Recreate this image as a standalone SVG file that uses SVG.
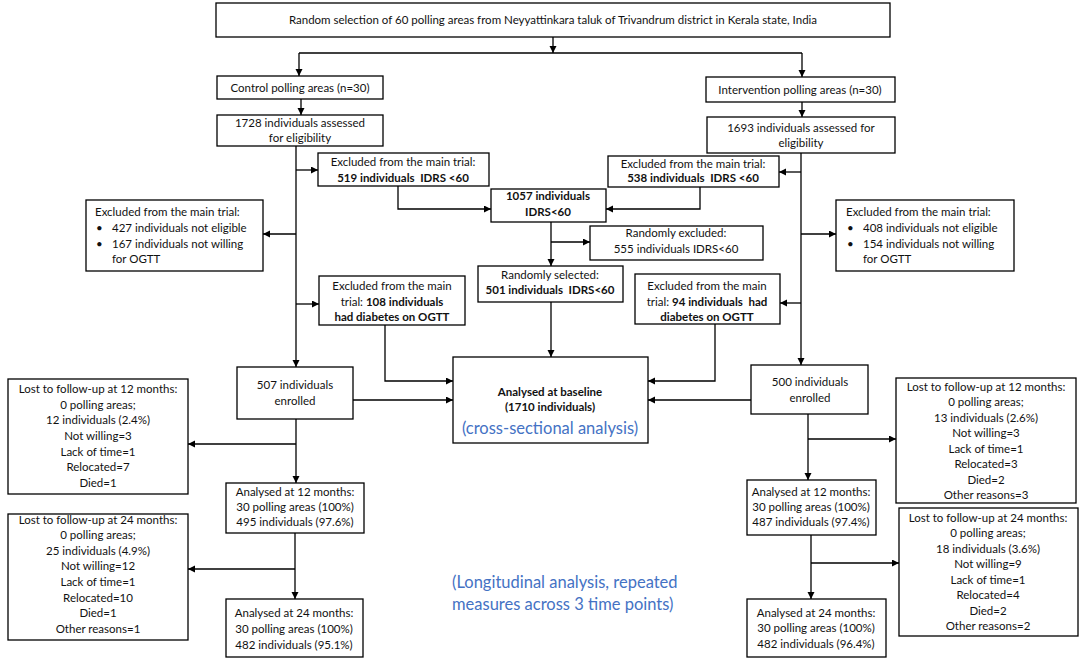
<svg xmlns="http://www.w3.org/2000/svg" width="1084" height="661" viewBox="0 0 1084 661">
<style>
.box{fill:#fff;stroke:#000;stroke-width:1.3}
.c{fill:none;stroke:#000;stroke-width:1.3}
text{font-family:Lato,"Liberation Sans",sans-serif;font-size:11.5px;fill:#111;text-anchor:middle}
.b{font-weight:bold}
.s{text-anchor:start}
.blue{fill:#4472C4;font-size:16.5px}
</style>
<defs>
<marker id="ah" markerUnits="userSpaceOnUse" markerWidth="8" markerHeight="8" refX="7" refY="3.5" orient="auto">
<path d="M0,0 L7,3.5 L0,7 z" fill="#000"/>
</marker>
</defs>
<rect width="1084" height="661" fill="#fff"/>
<g id="connectors" class="c" marker-end="url(#ah)">
<path d="M553,37 V53"/>
<path d="M299,53 H802" marker-end="none"/>
<path d="M299,53 V76"/>
<path d="M802,53 V77"/>
<path d="M301,99 V115"/>
<path d="M802,102 V117"/>
<path d="M296,146 V367"/>
<path d="M296,170 H318"/>
<path d="M296,234 H263"/>
<path d="M296,304 H319"/>
<path d="M801,153 V365"/>
<path d="M801,172 H779"/>
<path d="M801,234 H836"/>
<path d="M801,303 H780"/>
<path d="M398,186 V209 H491"/>
<path d="M700,187 V209 H606"/>
<path d="M551,222 V266"/>
<path d="M551,242 H590"/>
<path d="M551,302 V357"/>
<path d="M385,325 V381 H453"/>
<path d="M715,324 V381 H648"/>
<path d="M353,400 H453"/>
<path d="M751,400 H648"/>
<path d="M296,419 V483"/>
<path d="M296,444 H188"/>
<path d="M295,533 V599"/>
<path d="M295,569 H188"/>
<path d="M808,414 V480"/>
<path d="M808,439 H896"/>
<path d="M811,535 V599"/>
<path d="M811,563 H899"/>
</g>
<g id="n_top"><rect class="box" x="216" y="3" width="674" height="34"/><text x="553" y="24">Random selection of 60 polling areas from Neyyattinkara taluk of Trivandrum district in Kerala state, India</text></g>
<g id="n_ctrl"><rect class="box" x="217" y="76" width="166" height="23"/><text x="300" y="92">Control polling areas (n=30)</text></g>
<g id="n_int"><rect class="box" x="706" y="77" width="189" height="25"/><text x="800" y="94">Intervention polling areas (n=30)</text></g>
<g id="n_1728"><rect class="box" x="217" y="115" width="166" height="31"/><text x="300" y="127">1728 individuals assessed</text><text x="300" y="142">for eligibility</text></g>
<g id="n_1693"><rect class="box" x="707" y="117" width="188" height="36"/><text x="801" y="132">1693 individuals assessed for</text><text x="801" y="147">eligibility</text></g>
<g id="n_519"><rect class="box" x="318" y="153" width="171" height="33"/><text x="403" y="166">Excluded from the main trial:</text><text class="b" x="403" y="182">519 individuals &#160;IDRS &lt;60</text></g>
<g id="n_538"><rect class="box" x="608" y="156" width="171" height="31"/><text x="693" y="168">Excluded from the main trial:</text><text class="b" x="693" y="182">538 individuals &#160;IDRS &lt;60</text></g>
<g id="n_1057"><rect class="box" x="491" y="189" width="115" height="33"/><text class="b" x="548" y="200">1057 individuals</text><text class="b" x="548" y="216">IDRS&lt;60</text></g>
<g id="n_555"><rect class="box" x="590" y="226" width="173" height="34"/><text x="676" y="237">Randomly excluded:</text><text x="676" y="253">555 individuals IDRS&lt;60</text></g>
<g id="n_501"><rect class="box" x="478" y="266" width="145" height="36"/><text x="550" y="279">Randomly selected:</text><text class="b" x="550" y="294">501 individuals &#160;IDRS&lt;60</text></g>
<g id="n_427"><rect class="box" x="86" y="200" width="177" height="71"/><text class="s" x="95" y="216">Excluded from the main trial:</text><text class="s" x="96" y="232">•</text><text class="s" x="112" y="232">427 individuals not eligible</text><text class="s" x="96" y="248">•</text><text class="s" x="112" y="248">167 individuals not willing</text><text class="s" x="112" y="263">for OGTT</text></g>
<g id="n_408"><rect class="box" x="836" y="200" width="178" height="71"/><text class="s" x="846" y="216">Excluded from the main trial:</text><text class="s" x="847" y="232">•</text><text class="s" x="863" y="232">408 individuals not eligible</text><text class="s" x="847" y="248">•</text><text class="s" x="863" y="248">154 individuals not willing</text><text class="s" x="863" y="263">for OGTT</text></g>
<g id="n_108"><rect class="box" x="319" y="276" width="146" height="49"/><text x="392" y="290">Excluded from the main</text><text x="392" y="306">trial: <tspan class="b">108 individuals</tspan></text><text class="b" x="392" y="321">had diabetes on OGTT</text></g>
<g id="n_94"><rect class="box" x="635" y="274" width="145" height="50"/><text x="707" y="290">Excluded from the main</text><text x="707" y="306">trial: <tspan class="b">94 individuals &#160;had</tspan></text><text class="b" x="707" y="321">diabetes on OGTT</text></g>
<g id="n_base"><rect class="box" x="453" y="357" width="195" height="86"/><text class="b" x="550" y="396">Analysed at baseline</text><text class="b" x="550" y="411">(1710 individuals)</text><text class="blue" x="550" y="434">(cross-sectional analysis)</text></g>
<g id="n_507"><rect class="box" x="237" y="367" width="116" height="52"/><text x="295" y="389">507 individuals</text><text x="295" y="405">enrolled</text></g>
<g id="n_500"><rect class="box" x="751" y="365" width="117" height="49"/><text x="810" y="386">500 individuals</text><text x="810" y="402">enrolled</text></g>
<g id="n_lost12L"><rect class="box" x="8" y="379" width="180" height="115"/>
<text x="98" y="393">Lost to follow-up at 12 months:</text><text x="98" y="409">0 polling areas;</text><text x="98" y="424">12 individuals (2.4%)</text><text x="98" y="440">Not willing=3</text><text x="98" y="456">Lack of time=1</text><text x="98" y="471">Relocated=7</text><text x="98" y="487">Died=1</text></g>
<g id="n_12mL"><rect class="box" x="226" y="483" width="138" height="50"/><text x="295" y="496">Analysed at 12 months:</text><text x="295" y="511">30 polling areas (100%)</text><text x="295" y="526">495 individuals (97.6%)</text></g>
<g id="n_lost24L"><rect class="box" x="8" y="514" width="180" height="126"/>
<text x="98" y="524">Lost to follow-up at 24 months:</text><text x="98" y="539">0 polling areas;</text><text x="98" y="555">25 individuals (4.9%)</text><text x="98" y="570">Not willing=12</text><text x="98" y="586">Lack of time=1</text><text x="98" y="602">Relocated=10</text><text x="98" y="617">Died=1</text><text x="98" y="633">Other reasons=1</text></g>
<g id="n_24mL"><rect class="box" x="226" y="599" width="137" height="58"/><text x="294" y="617">Analysed at 24 months:</text><text x="294" y="633">30 polling areas (100%)</text><text x="294" y="649">482 individuals (95.1%)</text></g>
<g id="n_lost12R"><rect class="box" x="896" y="378" width="180" height="125"/>
<text x="986" y="391">Lost to follow-up at 12 months:</text><text x="986" y="406">0 polling areas;</text><text x="986" y="422">13 individuals (2.6%)</text><text x="986" y="437">Not willing=3</text><text x="986" y="453">Lack of time=1</text><text x="986" y="468">Relocated=3</text><text x="986" y="484">Died=2</text><text x="986" y="499">Other reasons=3</text></g>
<g id="n_12mR"><rect class="box" x="747" y="480" width="129" height="55"/><text x="811" y="496">Analysed at 12 months:</text><text x="811" y="511">30 polling areas (100%)</text><text x="811" y="526">487 individuals (97.4%)</text></g>
<g id="n_lost24R"><rect class="box" x="899" y="508" width="179" height="128"/>
<text x="988" y="522">Lost to follow-up at 24 months:</text><text x="988" y="537">0 polling areas;</text><text x="988" y="553">18 individuals (3.6%)</text><text x="988" y="568">Not willing=9</text><text x="988" y="584">Lack of time=1</text><text x="988" y="599">Relocated=4</text><text x="988" y="615">Died=2</text><text x="988" y="630">Other reasons=2</text></g>
<g id="n_24mR"><rect class="box" x="747" y="599" width="139" height="58"/><text x="816" y="617">Analysed at 24 months:</text><text x="816" y="632">30 polling areas (100%)</text><text x="816" y="648">482 individuals (96.4%)</text></g>
<g id="n_long"><text class="blue s" x="452" y="588">(Longitudinal analysis, repeated</text><text class="blue s" x="452" y="610">measures across 3 time points)</text></g>
</svg>
